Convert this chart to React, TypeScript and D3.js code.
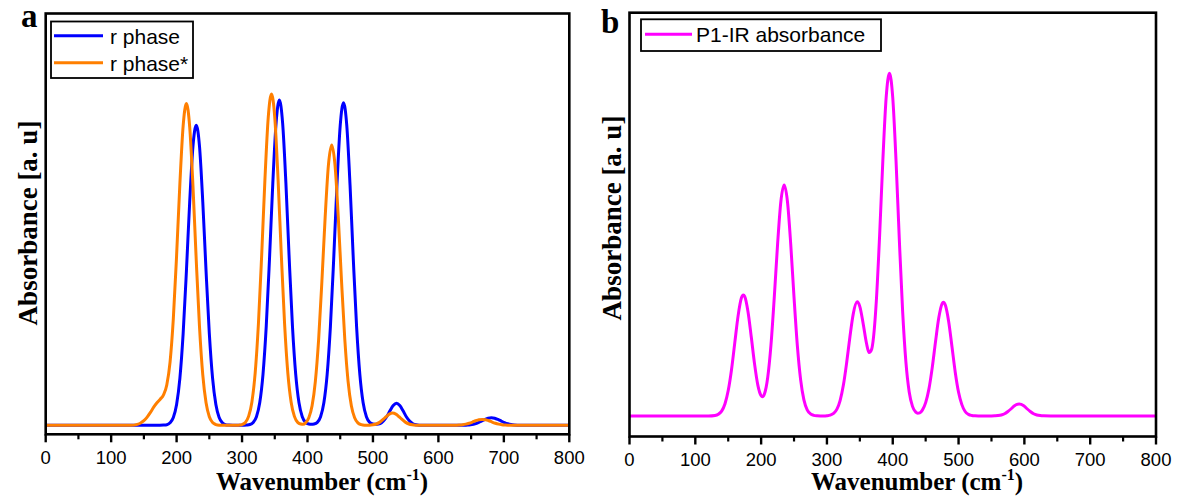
import React from "react";
import * as d3 from "d3";

// ---------- data ----------
const xTicks = [0, 100, 200, 300, 400, 500, 600, 700, 800];
const xMinorTicks = [50, 150, 250, 350, 450, 550, 650, 750];

const seriesNamesA = ["r phase", "r phase*"];
const seriesNamesB = ["P1-IR absorbance"];

// panel a – r phase (blue)
const waveBlue = [0, 100, 170, 180, 185, 190, 195, 200, 205, 210, 215, 220, 225, 230, 235, 240, 245, 250, 255, 260, 265, 270, 275, 280, 290, 300, 307, 312, 317, 322, 327, 332, 337, 342, 347, 352, 357, 362, 367, 372, 377, 382, 387, 392, 397, 402, 406, 410, 415, 420, 425, 430, 435, 440, 445, 450, 455, 460, 465, 470, 475, 480, 485, 490, 495, 500, 506, 511, 516, 521, 526, 531, 536, 541, 546, 551, 556, 561, 566, 575, 640, 646, 651, 656, 661, 666, 671, 676, 681, 686, 691, 696, 701, 706, 711, 716, 725, 800];
const absBlue = [0, 0, 0, 0.001, 0.002, 0.008, 0.024, 0.063, 0.142, 0.277, 0.466, 0.674, 0.842, 0.906, 0.842, 0.674, 0.466, 0.277, 0.142, 0.063, 0.024, 0.008, 0.002, 0.001, 0, 0, 0.001, 0.0025, 0.0086, 0.026, 0.068, 0.154, 0.3, 0.505, 0.731, 0.912, 0.982, 0.912, 0.731, 0.505, 0.3, 0.154, 0.068, 0.026, 0.009, 0.004, 0.003, 0.004, 0.009, 0.026, 0.068, 0.153, 0.298, 0.501, 0.725, 0.905, 0.974, 0.905, 0.725, 0.501, 0.298, 0.153, 0.068, 0.026, 0.009, 0.004, 0.003, 0.005, 0.013, 0.026, 0.044, 0.06, 0.067, 0.06, 0.044, 0.026, 0.013, 0.005, 0.0016, 0, 0, 0.001, 0.0023, 0.0047, 0.0083, 0.013, 0.0178, 0.0216, 0.023, 0.0216, 0.0178, 0.013, 0.0083, 0.0047, 0.0023, 0.001, 0, 0];

// panel a – r phase* (orange)
const waveOrange = [0, 130, 140, 145, 150, 155, 160, 165, 170, 175, 180, 185, 190, 195, 200, 205, 210, 215, 220, 225, 230, 235, 240, 245, 250, 255, 260, 265, 275, 290, 295, 300, 305, 310, 315, 320, 325, 330, 335, 340, 345, 350, 355, 360, 365, 370, 375, 380, 385, 390, 393, 397, 402, 407, 412, 417, 422, 427, 432, 437, 442, 447, 452, 457, 462, 467, 472, 477, 482, 487, 495, 500, 505, 510, 515, 520, 525, 530, 535, 540, 545, 550, 555, 560, 565, 575, 625, 632, 637, 642, 647, 652, 657, 662, 667, 672, 677, 682, 687, 692, 697, 702, 710, 800];
const absOrange = [0, 0, 0.003, 0.007, 0.014, 0.025, 0.039, 0.055, 0.068, 0.079, 0.092, 0.122, 0.191, 0.322, 0.513, 0.729, 0.904, 0.971, 0.901, 0.722, 0.499, 0.297, 0.152, 0.068, 0.026, 0.0085, 0.0024, 0.0006, 0, 0, 0.0006, 0.0025, 0.0088, 0.027, 0.07, 0.157, 0.306, 0.514, 0.744, 0.929, 1.0, 0.929, 0.744, 0.514, 0.306, 0.157, 0.07, 0.027, 0.009, 0.004, 0.003, 0.0074, 0.023, 0.059, 0.133, 0.259, 0.435, 0.629, 0.786, 0.846, 0.786, 0.629, 0.435, 0.259, 0.133, 0.059, 0.023, 0.0074, 0.0021, 0.0005, 0.0005, 0.0016, 0.004, 0.009, 0.017, 0.026, 0.034, 0.037, 0.034, 0.026, 0.017, 0.009, 0.004, 0.0016, 0.0005, 0, 0, 0.0008, 0.0018, 0.0037, 0.0065, 0.01, 0.014, 0.017, 0.018, 0.017, 0.014, 0.01, 0.0065, 0.0037, 0.0018, 0.0008, 0, 0];

// panel b – P1-IR absorbance (magenta)
const waveP1 = [0, 120, 130, 135, 140, 145, 150, 155, 160, 165, 170, 173, 175, 180, 185, 190, 195, 200, 202, 205, 210, 215, 220, 225, 230, 235, 240, 245, 250, 255, 260, 265, 270, 275, 280, 285, 290, 295, 300, 305, 310, 315, 320, 325, 330, 335, 340, 346, 350, 355, 360, 364, 368, 370, 375, 380, 385, 390, 395, 400, 405, 410, 415, 420, 425, 430, 435, 438, 441, 445, 450, 455, 460, 465, 470, 475, 477, 480, 485, 490, 495, 500, 505, 510, 515, 520, 525, 530, 550, 555, 560, 565, 570, 575, 580, 585, 592, 599, 604, 609, 614, 619, 624, 629, 640, 800];
const absP1 = [0, 0, 0.0015, 0.005, 0.014, 0.035, 0.074, 0.135, 0.214, 0.292, 0.344, 0.353, 0.349, 0.305, 0.231, 0.152, 0.09, 0.059, 0.056, 0.064, 0.112, 0.208, 0.347, 0.501, 0.626, 0.674, 0.626, 0.501, 0.346, 0.206, 0.106, 0.047, 0.018, 0.006, 0.0017, 0.0004, 0, 0, 0.0006, 0.0023, 0.0073, 0.019, 0.045, 0.09, 0.156, 0.232, 0.298, 0.333, 0.319, 0.27, 0.213, 0.185, 0.195, 0.217, 0.334, 0.525, 0.748, 0.93, 1.0, 0.929, 0.744, 0.514, 0.306, 0.157, 0.07, 0.028, 0.011, 0.008, 0.009, 0.017, 0.039, 0.079, 0.141, 0.217, 0.287, 0.328, 0.332, 0.323, 0.275, 0.202, 0.127, 0.069, 0.033, 0.013, 0.0046, 0.0014, 0.0003, 0, 0, 0.0003, 0.001, 0.0028, 0.0065, 0.013, 0.021, 0.03, 0.035, 0.03, 0.021, 0.013, 0.0065, 0.0028, 0.001, 0.0003, 0, 0];

// ---------- layout ----------
const W = 1178;
const H = 496;
const SANS = "Arial, 'Liberation Sans', Helvetica, sans-serif";
const SERIF = "'Times New Roman', 'Liberation Serif', Times, serif";

type Series = { name: string; xs: number[]; ys: number[]; color: string };

type PanelProps = {
  id: string;
  left: number;
  right: number;
  top: number;
  bottom: number;
  yDomain: [number, number];
  series: Series[];
  letter: string;
  letterX: number;
  letterY: number;
  legend: { x: number; y: number; w: number; h: number; rowY: number[]; lineX1: number; lineX2: number; textX: number };
  xTitleX: number;
  yTitleX: number;
  yTitleY: number;
};

function Panel(p: PanelProps) {
  const x = d3.scaleLinear().domain([0, 800]).range([p.left, p.right]);
  const y = d3.scaleLinear().domain(p.yDomain).range([p.bottom, p.top]);
  const line = d3
    .line<[number, number]>()
    .x((d) => x(d[0]))
    .y((d) => y(d[1]))
    .curve(d3.curveMonotoneX);
  return (
    <g>
      <defs>
        <clipPath id={`clip-${p.id}`}>
          <rect x={p.left} y={p.top} width={p.right - p.left} height={p.bottom - p.top} />
        </clipPath>
      </defs>
      <g clipPath={`url(#clip-${p.id})`}>
        {p.series.map((s) => (
          <path
            key={s.name}
            d={line(s.xs.map((v, i) => [v, s.ys[i]] as [number, number])) || ""}
            fill="none"
            stroke={s.color}
            strokeWidth={3}
            strokeLinejoin="round"
          />
        ))}
      </g>
      {/* frame */}
      <rect
        x={p.left}
        y={p.top}
        width={p.right - p.left}
        height={p.bottom - p.top}
        fill="none"
        stroke="#000"
        strokeWidth={2.6}
      />
      {/* ticks */}
      {xTicks.map((t) => (
        <g key={`M${t}`}>
          <line x1={x(t)} x2={x(t)} y1={p.bottom} y2={p.bottom + 8} stroke="#000" strokeWidth={2.4} />
          <text x={x(t)} y={p.bottom + 29.5} textAnchor="middle" fontFamily={SANS} fontSize={18.5} fill="#000">
            {t}
          </text>
        </g>
      ))}
      {xMinorTicks.map((t) => (
        <line key={`m${t}`} x1={x(t)} x2={x(t)} y1={p.bottom} y2={p.bottom + 5} stroke="#000" strokeWidth={2.2} />
      ))}
      {/* axis titles */}
      <text x={p.xTitleX} y={489.5} textAnchor="middle" fontFamily={SERIF} fontWeight="bold" fontSize={25} fill="#000">
        Wavenumber (cm
        <tspan fontSize={16} dy={-10}>-1</tspan>
        <tspan dy={10}>)</tspan>
      </text>
      <text
        transform={`translate(${p.yTitleX},${p.yTitleY}) rotate(-90)`}
        textAnchor="middle"
        fontFamily={SERIF}
        fontWeight="bold"
        fontSize={27}
        fill="#000"
      >
        Absorbance [a. u]
      </text>
      {/* panel letter */}
      <text x={p.letterX} y={p.letterY} fontFamily={SERIF} fontWeight="bold" fontSize={33} fill="#000">
        {p.letter}
      </text>
      {/* legend */}
      <rect x={p.legend.x} y={p.legend.y} width={p.legend.w} height={p.legend.h} fill="#fff" stroke="#000" strokeWidth={1.8} />
      {p.series.map((s, i) => (
        <g key={`lg${s.name}`}>
          <line
            x1={p.legend.lineX1}
            x2={p.legend.lineX2}
            y1={p.legend.rowY[i]}
            y2={p.legend.rowY[i]}
            stroke={s.color}
            strokeWidth={3}
          />
          <text x={p.legend.textX} y={p.legend.rowY[i] + 8} fontFamily={SANS} fontSize={21} fill="#000">
            {s.name}
          </text>
        </g>
      ))}
    </g>
  );
}

export default function App() {
  const seriesA: Series[] = [
    { name: seriesNamesA[0], xs: waveBlue, ys: absBlue, color: "#0000ff" },
    { name: seriesNamesA[1], xs: waveOrange, ys: absOrange, color: "#ff7f00" },
  ];
  const seriesB: Series[] = [{ name: seriesNamesB[0], xs: waveP1, ys: absP1, color: "#ff00ff" }];
  return (
    <svg
      width={W}
      height={H}
      viewBox={`0 0 ${W} ${H}`}
      style={{ position: "absolute", left: 0, top: 0, background: "#fff" }}
    >
      <rect x={0} y={0} width={W} height={H} fill="#fff" />
      <Panel
        id="a"
        left={45.7}
        right={569.3}
        top={13.5}
        bottom={434.3}
        yDomain={[-0.027, 1.243]}
        series={seriesA}
        letter="a"
        letterX={21}
        letterY={27}
        legend={{ x: 51, y: 21.5, w: 142, h: 56.5, rowY: [35.7, 62.7], lineX1: 54, lineX2: 103, textX: 110 }}
        xTitleX={322}
        yTitleX={37}
        yTitleY={223}
      />
      <Panel
        id="b"
        left={629.5}
        right={1156}
        top={12.7}
        bottom={436.5}
        yDomain={[-0.06, 1.177]}
        series={seriesB}
        letter="b"
        letterX={601}
        letterY={33}
        legend={{ x: 641, y: 19.3, w: 240, h: 31.7, rowY: [34.3], lineX1: 645, lineX2: 692, textX: 696 }}
        xTitleX={917}
        yTitleX={621}
        yTitleY={218}
      />
    </svg>
  );
}
